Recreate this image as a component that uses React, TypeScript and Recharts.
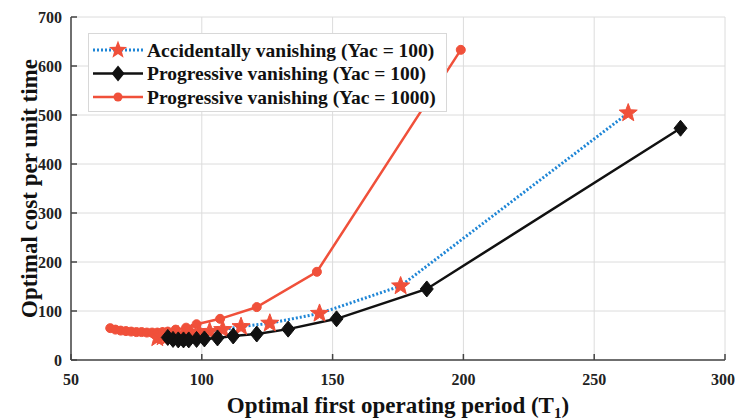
import React from "react";
import { LineChart, Line, XAxis, YAxis, CartesianGrid } from "recharts";

// Accidentally vanishing (Yac = 100)
const accX = [83, 85, 87, 89, 91, 93, 96, 99, 103, 108, 115, 126, 145, 176, 263];
const accY = [45, 47, 48, 50, 51, 52, 54, 56, 58, 62, 68, 75, 95, 151, 504];
// Progressive vanishing (Yac = 100)
const prog100X = [87, 89, 91, 93, 95, 98, 101, 106, 112, 121, 133, 151.5, 186, 283];
const prog100Y = [46, 42, 41, 41, 41, 42, 43, 45, 49, 53, 63, 84, 145, 473];
// Progressive vanishing (Yac = 1000)
const prog1000X = [65, 67, 69, 71, 73, 75, 77, 79, 81, 83, 85, 87, 90, 94, 98, 107, 121, 144, 199];
const prog1000Y = [65, 62, 60, 59, 58, 57, 57, 56, 56, 56, 57, 58, 62, 66, 73, 84, 108, 180, 633];

const xTicks = [50, 100, 150, 200, 250, 300];
const yTicks = [0, 100, 200, 300, 400, 500, 600, 700];

const seriesNames = [
  "Accidentally vanishing (Yac = 100)",
  "Progressive vanishing (Yac = 100)",
  "Progressive vanishing (Yac = 1000)",
];

const toRows = (xs: number[], ys: number[]) => xs.map((x, i) => ({ x, y: ys[i] }));
const accData = toRows(accX, accY);
const prog100Data = toRows(prog100X, prog100Y);
const prog1000Data = toRows(prog1000X, prog1000Y);

const RED = "#f0503a";
const BLUE = "#1f86d6";
const FONT = "'Liberation Serif', 'Times New Roman', serif";

const starPath = (cx: number, cy: number, r: number) => {
  const pts: string[] = [];
  for (let i = 0; i < 10; i++) {
    const rad = i % 2 === 0 ? r : r * 0.42;
    const a = -Math.PI / 2 + (i * Math.PI) / 5;
    pts.push(`${cx + rad * Math.cos(a)},${cy + rad * Math.sin(a)}`);
  }
  return pts.join(" ");
};

const Star = (props: any) => {
  const { cx, cy, index } = props;
  if (cx == null || cy == null) return null;
  return <polygon key={`s${index}`} points={starPath(cx, cy, 9.5)} fill={RED} stroke={RED} strokeWidth={1} />;
};

const Diamond = (props: any) => {
  const { cx, cy, index } = props;
  if (cx == null || cy == null) return null;
  return (
    <polygon
      key={`d${index}`}
      points={`${cx},${cy - 8} ${cx + 6.5},${cy} ${cx},${cy + 8} ${cx - 6.5},${cy}`}
      fill="#111"
      stroke="#111"
      strokeWidth={1}
    />
  );
};

const Dot = (props: any) => {
  const { cx, cy, index } = props;
  if (cx == null || cy == null) return null;
  return <circle key={`c${index}`} cx={cx} cy={cy} r={4.5} fill={RED} stroke={RED} />;
};

const tickStyle = { fontFamily: FONT, fontWeight: "bold" as const, fontSize: 16, fill: "#222" };

const YLabel = (props: any) => {
  const vb = props.viewBox || { x: 0, y: 17, width: 71, height: 343 };
  const cy = vb.y + vb.height / 2;
  return (
    <text
      x={37}
      y={cy}
      transform={`rotate(-90, 37, ${cy})`}
      textAnchor="middle"
      fontFamily={FONT}
      fontWeight="bold"
      fontSize={23}
      fill="#111"
    >
      Optimal cost per unit time
    </text>
  );
};

const XLabel = (props: any) => {
  const vb = props.viewBox || { x: 71, y: 360, width: 654, height: 60 };
  const cx = vb.x + vb.width / 2;
  return (
    <text x={cx} y={413} textAnchor="middle" fontFamily={FONT} fontWeight="bold" fontSize={23} fill="#111">
      Optimal first operating period (T
      <tspan fontSize={15} dy={5}>1</tspan>
      <tspan dy={-5}>)</tspan>
    </text>
  );
};

const LegendBox = () => {
  const rowH = 23.5;
  return (
    <div
      style={{
        position: "absolute",
        left: 88,
        top: 33,
        width: 359,
        height: 79,
        background: "#fff",
        border: "1px solid #d8d8d8",
        boxSizing: "border-box",
      }}
    >
      <svg width={359} height={79} style={{ position: "absolute", left: 0, top: 0 }}>
        {seriesNames.map((name, i) => {
          const y = 16 + i * rowH;
          return (
            <g key={name}>
              {i === 0 && (
                <>
                  <line x1={4} x2={54} y1={y} y2={y} stroke={BLUE} strokeWidth={3} strokeDasharray="2 2" />
                  <polygon points={starPath(29, y, 9.5)} fill={RED} />
                </>
              )}
              {i === 1 && (
                <>
                  <line x1={4} x2={54} y1={y} y2={y} stroke="#111" strokeWidth={2.5} />
                  <polygon points={`29,${y - 8} 35.5,${y} 29,${y + 8} 22.5,${y}`} fill="#111" />
                </>
              )}
              {i === 2 && (
                <>
                  <line x1={4} x2={54} y1={y} y2={y} stroke={RED} strokeWidth={2.5} />
                  <circle cx={29} cy={y} r={4.5} fill={RED} />
                </>
              )}
              <text x={58} y={y + 6.5} fontFamily={FONT} fontWeight="bold" fontSize={19.5} fill="#111">
                {name}
              </text>
            </g>
          );
        })}
      </svg>
    </div>
  );
};

export default function App() {
  return (
    <div style={{ position: "absolute", left: 0, top: 0, width: 735, height: 420, background: "#fff" }}>
      <LineChart width={735} height={420} margin={{ top: 17, right: 10, left: 0, bottom: 0 }}>
        <CartesianGrid stroke="#dcdcdc" strokeWidth={1} />
        <XAxis
          type="number"
          dataKey="x"
          domain={[50, 300]}
          ticks={xTicks}
          allowDataOverflow
          height={60}
          tick={tickStyle}
          tickSize={-6}
          tickMargin={20}
          tickLine={{ stroke: "#444" }}
          stroke="#444"
          strokeWidth={1.5}
          label={<XLabel />}
        />
        <YAxis
          type="number"
          dataKey="y"
          domain={[0, 700]}
          ticks={yTicks}
          allowDataOverflow
          width={71}
          tick={tickStyle}
          tickSize={-6}
          tickMargin={15}
          tickLine={{ stroke: "#444" }}
          stroke="#444"
          strokeWidth={1.5}
          label={<YLabel />}
        />
        <Line
          data={prog1000Data}
          dataKey="y"
          type="linear"
          stroke={RED}
          strokeWidth={2.5}
          dot={<Dot />}
          isAnimationActive={false}
        />
        <Line
          data={accData}
          dataKey="y"
          type="linear"
          stroke={BLUE}
          strokeWidth={3}
          strokeDasharray="2 2"
          dot={<Star />}
          isAnimationActive={false}
        />
        <Line
          data={prog100Data}
          dataKey="y"
          type="linear"
          stroke="#111"
          strokeWidth={2.5}
          dot={<Diamond />}
          isAnimationActive={false}
        />
      </LineChart>
      <LegendBox />
    </div>
  );
}
